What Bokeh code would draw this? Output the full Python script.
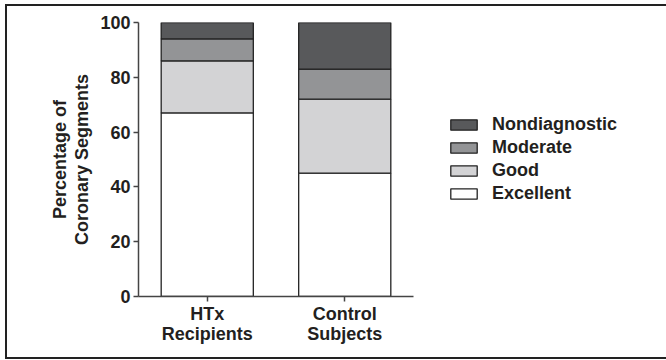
from bokeh.plotting import figure
from bokeh.models import Range1d, FactorRange, Legend, LegendItem, ColumnDataSource
from bokeh.embed import file_html
from bokeh.resources import INLINE

categories = ["HTx\nRecipients", "Control\nSubjects"]
levels = ["Excellent", "Good", "Moderate", "Nondiagnostic"]
excellent = [67, 45]
good = [19, 27]
moderate = [8, 11]
nondiagnostic = [6, 17]
colors = ["#ffffff", "#d3d3d5", "#939496", "#58595b"]
y_ticks = [0, 20, 40, 60, 80, 100]

FONT = "Liberation Sans"
TXT = "#231f20"

source = ColumnDataSource(dict(cat=categories, Excellent=excellent, Good=good,
                               Moderate=moderate, Nondiagnostic=nondiagnostic))

p = figure(x_range=FactorRange(*categories), y_range=Range1d(0, 100),
           frame_width=275, frame_height=274, output_backend="svg", toolbar_location=None,
           min_border_left=131, min_border_right=251, min_border_top=16, min_border_bottom=61,
           margin=(4, 0, 0, 5), styles={"border": "2px solid #222"})

renderers = p.vbar_stack(levels, x="cat", width=0.67, source=source, color=colors,
                         line_color="#222222", line_width=1.3)

items = [LegendItem(label=lvl, renderers=[r]) for lvl, r in zip(levels, renderers)][::-1]
legend = Legend(items=items, location="left", margin=0, padding=34,
                glyph_width=33, glyph_height=13, label_standoff=12, spacing=2,
                label_text_font=FONT, label_text_font_style="bold",
                label_text_font_size="18px", label_text_color=TXT,
                border_line_alpha=0, background_fill_alpha=0)
p.add_layout(legend, "right")

p.outline_line_color = None
p.xgrid.grid_line_color = None
p.ygrid.grid_line_color = None

for ax in (p.xaxis[0], p.yaxis[0]):
    ax.axis_line_color = "#444444"
    ax.axis_line_width = 1.5
    ax.major_tick_line_color = "#444444"
    ax.major_tick_line_width = 1.5
    ax.major_tick_in = 0
    ax.major_tick_out = 5
    ax.minor_tick_line_color = None
    ax.major_label_text_font = FONT
    ax.major_label_text_font_style = "bold"
    ax.major_label_text_font_size = "18px"
    ax.major_label_text_color = TXT

p.yaxis.ticker = y_ticks
p.yaxis.major_label_standoff = 3
p.yaxis.axis_label = "Percentage of\nCoronary Segments"
p.yaxis.axis_label_text_font = FONT
p.yaxis.axis_label_text_font_style = "bold"
p.yaxis.axis_label_text_font_size = "18px"
p.yaxis.axis_label_text_color = TXT
p.yaxis.axis_label_text_line_height = 1.1
p.yaxis.axis_label_standoff = 5
p.xaxis.major_label_standoff = 2
p.xaxis.major_label_text_line_height = 1.0

open("out.html", "w").write(file_html(p, INLINE))
